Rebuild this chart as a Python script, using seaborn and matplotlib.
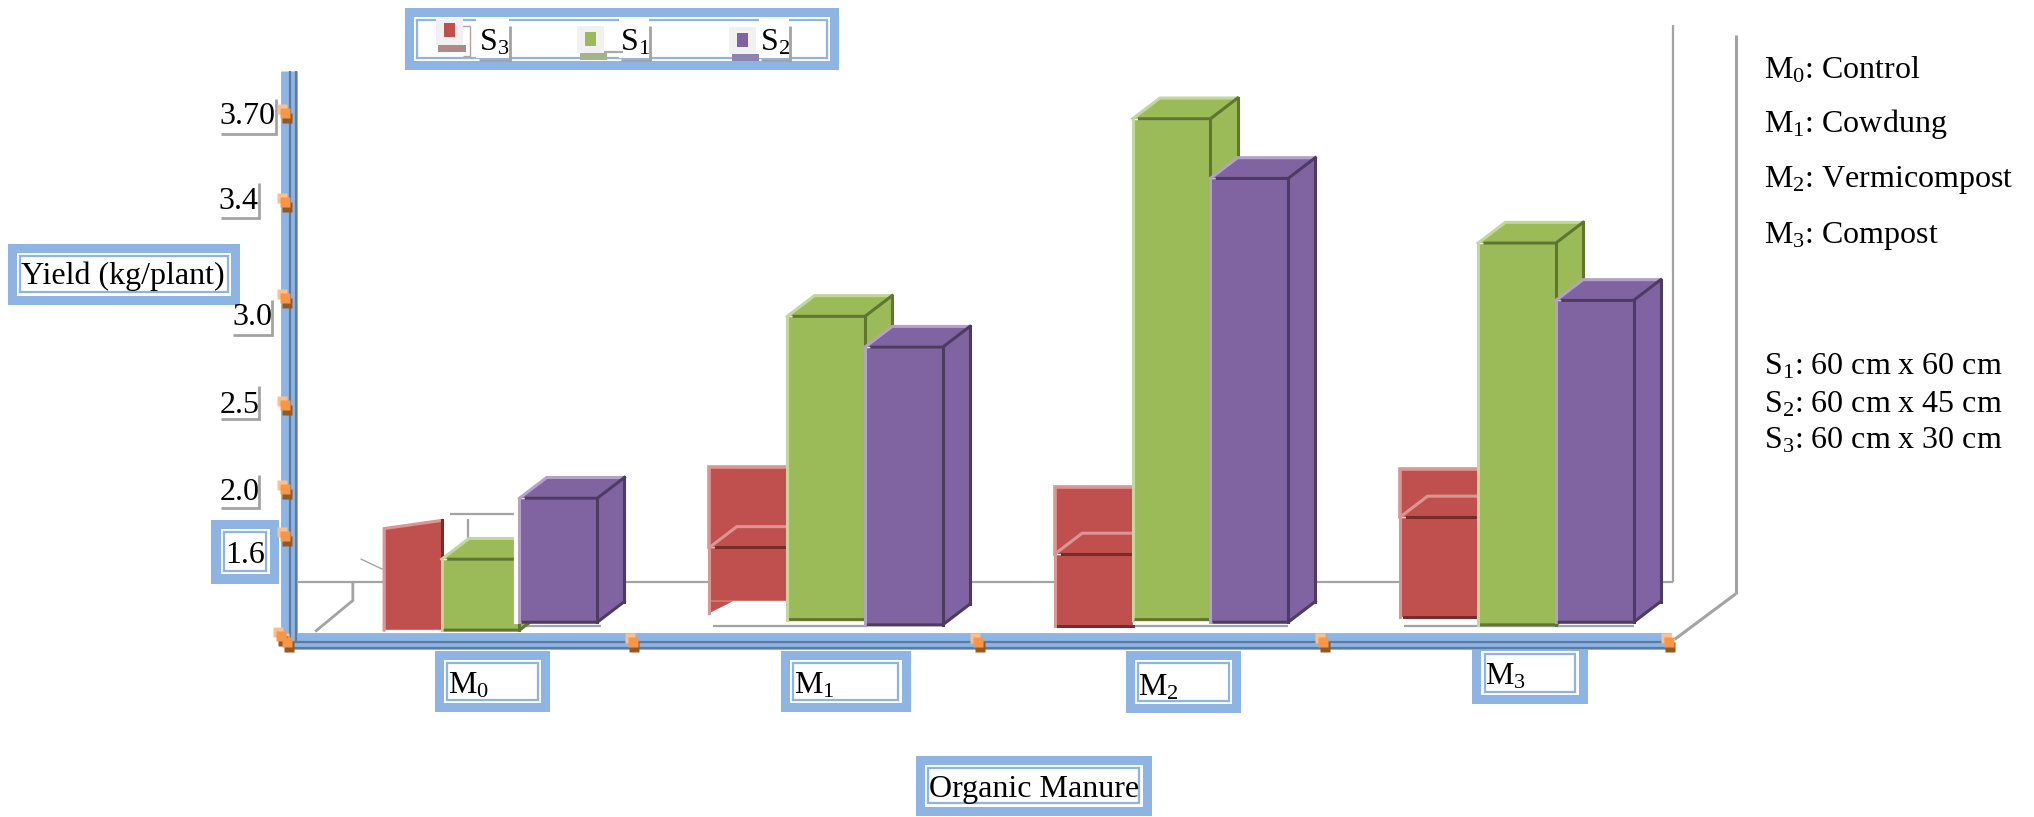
import numpy as np
import pandas as pd
import matplotlib
matplotlib.use("Agg")
import matplotlib.pyplot as plt
import seaborn as sns
from matplotlib.patches import Polygon, Rectangle, Patch
from matplotlib.transforms import Affine2D
from matplotlib.ticker import NullLocator

# ---- data ----
manures = ["M$_{0}$", "M$_{1}$", "M$_{2}$", "M$_{3}$"]
spacings = ["S$_{3}$", "S$_{1}$", "S$_{2}$"]
yield_s3 = [1.73, 1.555, 1.53, 1.76]
yield_s1 = [1.51, 2.915, 3.68, 3.23]
yield_s2 = [1.92, 2.77, 3.48, 2.99]
base_s3 = [1.24, 1.35, 1.255, 1.29]
base_s1 = [1.24, 1.28, 1.28, 1.26]
base_s2 = [1.27, 1.26, 1.27, 1.27]
panel_s3 = [np.nan, 2.13, 2.01, 2.12]   # raised back panel of the S3 columns
tick_values = [1.6, 2.0, 2.5, 3.0, 3.4, 3.7]
tick_labels = ["1.6", "2.0", "2.5", "3.0", "3.4", "3.70"]
manure_notes = ["M$_{0}$: Control", "M$_{1}$: Cowdung", "M$_{2}$: Vermicompost", "M$_{3}$: Compost"]
spacing_notes = ["S$_{1}$: 60 cm x 60 cm", "S$_{2}$: 60 cm x 45 cm", "S$_{3}$: 60 cm x 30 cm"]

# ---- theme ----
sns.set_theme(style="white")
plt.rcParams["font.family"] = ["Liberation Serif", "DejaVu Serif"]
plt.rcParams["mathtext.fontset"] = "custom"
plt.rcParams["mathtext.rm"] = "Liberation Serif"
plt.rcParams["mathtext.default"] = "regular"
FS = 23

FACE = ["#C0504D", "#9BBB59", "#8064A2"]
LIGHT = ["#DA9694", "#C3D69B", "#B3A2C7"]
DARK = ["#772C2A", "#5F7530", "#4D3B62"]
BLUE = "#8EB4E3"
BLUE_DARK = "#5A7CA3"
GREY = "#A3A3A3"

W, H = 1568.0, 630.0
K = 2034.0 / 1568.0          # layout unit -> output pixel

fig = plt.figure(figsize=(20.34, 8.17), dpi=100, facecolor="white")

# layout layer behind the plot: walls, frames, notes
back = fig.add_axes([0, 0, 1, 1], zorder=0)
back.set_xlim(0, W)
back.set_ylim(H, 0)
back.axis("off")


def seg(xs, ys, color=GREY, lw=1.6, z=1):
    back.plot(xs, ys, color=color, lw=lw, solid_capstyle="butt", solid_joinstyle="miter", zorder=z)


def frame(x0, y0, x1, y1):
    back.add_patch(Rectangle((x0, y0), x1 - x0, y1 - y0, fc=BLUE, ec="none", zorder=2))
    a = 7.0
    back.add_patch(Rectangle((x0 + a, y0 + a), x1 - x0 - 2 * a, y1 - y0 - 2 * a, fc="white", ec="none", zorder=2.1))
    b = a + 2.6
    back.add_patch(Rectangle((x0 + b, y0 + b), x1 - x0 - 2 * b, y1 - y0 - 2 * b, fc="none", ec=BLUE, lw=1.6, zorder=2.2))


# chart walls
seg([230, 1290], [449, 449])
seg([1290, 1290], [19, 449])
seg([1338, 1338], [27, 458], lw=2.2)
seg([1338, 1291], [458, 493], lw=2.2)
seg([272, 272, 243], [449, 463, 487], lw=2.0)
seg([347, 396], [396, 396])
seg([361, 361], [400, 416])
seg([278, 295], [431, 439], lw=1.0)
for x0, x1 in [(405, 463), (550, 668), (875, 993), (1082, 1260)]:
    seg([x0, x1], [482.5, 482.5])

# text frames
for box in [(6, 188, 185, 235), (163, 401, 215, 450), (335, 502, 424, 549), (602, 502, 702, 549),
            (868, 502, 957, 550), (1135, 495, 1224, 543), (706, 583, 888, 629), (312, 6, 647, 54)]:
    frame(*box)

# grey corners beside the value labels
for x0, x1, y0, y1 in [(170, 213, 76, 103), (170, 200, 141, 168), (180, 210, 231, 258),
                       (170, 200, 298, 323), (170, 200, 366, 392)]:
    seg([x0, x1, x1], [y1, y1, y0], lw=2.0)

# legend tiles and their shadows
for (x0, x1, y0, y1), (tx0, tx1), shade in zip(
        [(336, 357, 14, 35), (445, 466, 20, 41), (562, 583, 21, 42)],
        [(369, 393), (479, 501), (587, 609)],
        ["#B08A8A", "#A3B38A", "#8A84AE"]):
    back.add_patch(Rectangle((x0 + 2, y1), x1 - x0, 5, fc=shade, ec="none", zorder=3))
    back.add_patch(Rectangle((x0, y0), x1 - x0, y1 - y0, fc="#F1F1F1", ec="none", zorder=3.1))
    back.add_patch(Rectangle((tx0 - 2, 15), tx1 - tx0 + 1, 30, fc="white", ec="none", zorder=3.2))
    seg([tx0, tx1, tx1], [46, 46, 20], lw=2.0, z=3.3)
seg([357, 362, 362, 350], [43, 43, 20, 20], color="#B9A0A0", lw=1.0, z=3)
seg([466, 480], [40, 40], color="#A8A8A8", lw=1.6, z=3.3)

# explanatory notes
for text, y in zip(manure_notes, [54, 96, 139, 182]):
    back.text(1360, y, text, fontsize=FS, color="black", va="center", ha="left")
for text, y in zip(spacing_notes, [283, 312, 340]):
    back.text(1360, y, text, fontsize=FS, color="black", va="center", ha="left")

# ---- plot ----
left, right, top_px, bottom_px = 223.0, 1288.0, 18.0, 494.0
ax = fig.add_axes([left / W, 1 - bottom_px / H, (right - left) / W, (bottom_px - top_px) / H], zorder=1)
ax.patch.set_visible(False)

df = pd.DataFrame({
    "manure": manures * 3,
    "spacing": np.repeat(spacings, len(manures)),
    "yield": yield_s3 + yield_s1 + yield_s2,
})
sns.barplot(data=df, x="manure", y="yield", hue="spacing", order=manures, hue_order=spacings,
            palette=FACE, saturation=1, width=0.675, gap=0, errorbar=None, legend=False, ax=ax, zorder=1)

# the value axis is unevenly spaced: each labelled value sits at its own height
scale_values = np.array([0.0, 1.2, 1.6, 2.0, 2.5, 3.0, 3.4, 3.7, 4.0, 6.0])
scale_heights = np.array([-104.0, 136.0, 217.0, 253.0, 318.0, 400.0, 474.0, 543.0, 612.0, 1072.0])


def forward(v):
    return np.interp(v, scale_values, scale_heights)


def inverse(h):
    return np.interp(h, scale_heights, scale_values)


ax.set_yscale("function", functions=(forward, inverse))
ax.set_ylim(1.2, 4.0)
x_zero, x_step = 370.5, 266.3
ax.set_xlim((left - x_zero) / x_step, (right - x_zero) / x_step)
ax.autoscale(False)

dx = 21.0 / x_step
rise = 16.0


def behind(x, y):
    return x + dx, float(inverse(forward(y) + rise))


def edge(xs, ys, color, z, lw=2.2):
    ax.plot(xs, ys, color=color, lw=lw, solid_capstyle="projecting", solid_joinstyle="miter",
            zorder=z, clip_on=False, scalex=False, scaley=False)


tops = [yield_s3, yield_s1, yield_s2]
bases = [base_s3, base_s1, base_s2]
for h, container in enumerate(ax.containers):
    z = 1.0 + 0.1 * h
    for m, bar in enumerate(container):
        top, base = tops[h][m], bases[h][m]
        bar.set_y(base)
        bar.set_height(top - base)
        bar.set_zorder(z)
        x0, x1 = bar.get_x(), bar.get_x() + bar.get_width()

        if h == 0 and m == 0:
            # the S3 column of M0 is a narrow flat panel with a sloping top
            x0 = x0 + 0.058
            x1 = x0 + 0.167
            bar.set_x(x0)
            bar.set_width(x1 - x0)
            low = top - 0.07
            bar.set_clip_path(Polygon([(x0, base), (x1, base), (x1, top), (x0, low)], transform=ax.transData))
            edge([x0, x0, x1], [base, low, top], LIGHT[h], z + 0.01)
            edge([x1, x1], [top, base], DARK[h], z + 0.01)
            continue

        bx0, by = behind(x0, top)
        bx1, _ = behind(x1, top)
        _, bbase = behind(x1, base)
        ax.add_patch(Polygon([(x0, top), (x1, top), (bx1, by), (bx0, by)], fc=FACE[h], ec="none", zorder=z))
        if h > 0:
            ax.add_patch(Polygon([(x1, top), (bx1, by), (bx1, bbase), (x1, base)], fc=FACE[h], ec="none", zorder=z))

        if h == 0:
            # raised panel rising behind the top face
            panel = panel_s3[m]
            ax.add_patch(Rectangle((x0, top), x1 - x0, panel - top, fc=FACE[h], ec="none", zorder=z))
            edge([x0, x0, x1], [top, panel, panel], LIGHT[h], z + 0.01, lw=2.6)
            if m == 1:
                ax.add_patch(Polygon([(x0, base), (x0 + 0.068, base), (x0, base - 0.045)],
                                     fc=FACE[h], ec="none", zorder=z))
                edge([x0, x0], [base - 0.045, top], LIGHT[h], z + 0.01)
            else:
                edge([x0, x0], [base, top], LIGHT[h], z + 0.01)
                edge([x0 + 0.01, x1], [base, base], DARK[h], z + 0.02)
            edge([x0, bx0, x1], [top, by, by], LIGHT[h], z + 0.01)
            edge([x0 + 0.02, x1], [top, top], DARK[h], z + 0.02)
            continue

        edge([x0, x0], [base, top], LIGHT[h], z + 0.01)
        if h == 2 and m == 0:
            edge([x0 - 0.011, x0 - 0.011], [base, top], "white", z - 0.02, lw=3.0)

        edge([x0, bx0, bx1], [top, by, by], LIGHT[h], z + 0.01)
        edge([x0 + 0.02, x1, bx1], [top, top, by], DARK[h], z + 0.02)
        edge([x1, x1], [top, base], DARK[h], z + 0.02)
        edge([bx1, bx1], [by, bbase], DARK[h], z + 0.02)
        edge([x0 + 0.01, x1, bx1], [base, base, bbase], DARK[h], z + 0.02)

# ---- axes styling ----
sns.despine(ax=ax)
band_lw = 13 * K * 0.72
for name in ["left", "bottom"]:
    ax.spines[name].set_color(BLUE)
    ax.spines[name].set_linewidth(band_lw)
    ax.spines[name].set_capstyle("butt")
band_top = float(inverse(H - 55.0))
ax.spines["left"].set_bounds(1.2, band_top)

xform_x = ax.get_xaxis_transform()   # x in data, y in axes fraction
xform_y = ax.get_yaxis_transform()   # x in axes fraction, y in data


def shifted(base_transform, px, py):
    return base_transform + Affine2D().translate(px, py)


# darker grooves running along both axis bands
xl, xr = ax.get_xlim()
for off in (1.5, 7.0):
    ax.plot([xl, xr], [0, 0], transform=shifted(xform_x, 0, -off), color=BLUE_DARK, lw=1.6,
            clip_on=False, zorder=2.8, solid_capstyle="butt")
for off in (1.0, 7.0):
    ax.plot([0, 0], [1.2, band_top], transform=shifted(xform_y, off, 0), color=BLUE_DARK, lw=1.6,
            clip_on=False, zorder=2.8, solid_capstyle="butt")

# orange tick blocks
ax.set_yticks(tick_values)
ax.set_yticklabels(tick_labels)
ax.yaxis.set_minor_locator(NullLocator())
ax.set_xticks(range(len(manures)))
ax.set_xticklabels(manures)
ax.tick_params(axis="both", which="both", length=0, pad=0, labelsize=FS, labelcolor="black", left=False, bottom=False)

boundaries = np.arange(len(manures) + 1) - 0.56
tick_ms = 7.5
for (px, py), colour in zip([(-3.0, 4.0), (1.5, -5.0), (0, 0)], ["#FBC08E", "#97581F", "#F79646"]):
    ax.plot(boundaries, np.zeros_like(boundaries), ls="none", marker="s", ms=tick_ms, color=colour, mec="none",
            transform=shifted(xform_x, px, py - 1), clip_on=False, zorder=3)
    ax.plot(np.zeros(len(tick_values)) - 0.003, tick_values, ls="none", marker="s", ms=tick_ms, color=colour, mec="none",
            transform=shifted(xform_y, px, py), clip_on=False, zorder=3)
    ax.plot([0], [1.2], ls="none", marker="s", ms=tick_ms, color=colour, mec="none",
            transform=shifted(xform_y, px - 8, py + 5), clip_on=False, zorder=3)

# tick labels: each one sits at its own place beside its tick
label_right = [204, 200, 200, 210, 199, 212]
label_centre = [428, 380, 313, 245, 155, 90]
for lab, value, rx, cy in zip(ax.get_yticklabels(), tick_values, label_right, label_centre):
    tick_px = H - float(forward(value))
    lab.set_ha("right")
    lab.set_va("center")
    lab.set_transform(lab.get_transform() + Affine2D().translate((rx - left) * K, (tick_px - cy) * K))

label_left = [345, 612, 877, 1145]
label_mid = [529, 529, 530, 522]
for i, (lab, lx, cy) in enumerate(zip(ax.get_xticklabels(), label_left, label_mid)):
    tick_x = x_zero + x_step * i
    lab.set_ha("left")
    lab.set_va("center")
    lab.set_transform(lab.get_transform() + Affine2D().translate((lx - tick_x) * K, (bottom_px - cy) * K))

ax.set_xlabel("Organic Manure", fontsize=FS, color="black")
ax.xaxis.set_label_coords((797 - left) / (right - left), (bottom_px - 609) / (bottom_px - top_px))
ax.xaxis.label.set_va("center")
ax.set_ylabel("Yield (kg/plant)", fontsize=FS, color="black", rotation=0, ha="center", va="center")
ax.yaxis.set_label_coords((95 - left) / (right - left), (bottom_px - 213) / (bottom_px - top_px))

# legend
handles = [Patch(fc=c, ec="none") for c in FACE]
leg = ax.legend(handles, spacings, ncol=3, frameon=False, fontsize=FS, loc="center",
                bbox_to_anchor=(475 / W, 1 - 33 / H), bbox_transform=fig.transFigure,
                handlelength=0.4, handleheight=0.28, handletextpad=0.75, columnspacing=2.3,
                borderpad=0, borderaxespad=0, labelcolor="black")
for patch, lift, slide in zip(leg.get_patches(), [6.3, 0.2, -0.5], [1.0, 1.5, 10.0]):
    patch.set_y(patch.get_y() + lift)
    patch.set_x(patch.get_x() + slide)
    patch.set_width(patch.get_width() - 1.5)

fig.savefig("out.png", dpi=100, facecolor="white")
